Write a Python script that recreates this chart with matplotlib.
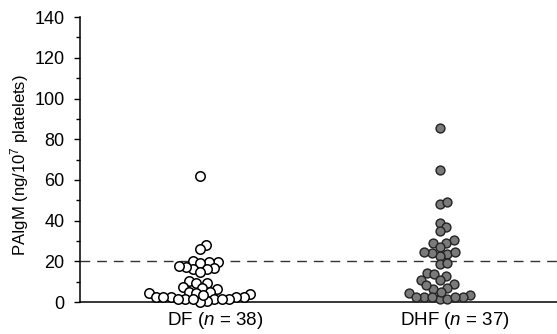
import matplotlib.pyplot as plt
import matplotlib.transforms as mtransforms
import numpy as np
from matplotlib.ticker import MultipleLocator

plt.rcParams['font.family'] = ['Liberation Sans', 'DejaVu Sans']
plt.rcParams['mathtext.fontset'] = 'custom'
plt.rcParams['mathtext.rm'] = 'Liberation Sans'
plt.rcParams['mathtext.it'] = 'Liberation Sans:italic'

# Dados
groups = ["DF", "DHF"]
labels = ["DF ($n$ = 38)", "DHF ($n$ = 37)"]
df_vals = [62.0, 27.8, 25.9, 19.6, 19.6, 20.1, 19.3, 16.5, 16.1, 16.1, 17.4,
           17.5, 14.7, 9.5, 10.3, 9.2, 7.5, 6.2, 7.0, 5.1, 4.6, 4.3, 4.9, 4.0,
           2.3, 2.6, 1.5, 2.3, 1.6, 2.6, 0.3, 0.2, 3.4, 1.3, 2.3, 1.6, 1.6, 1.3]
dhf_vals = [85.3, 64.8, 48.0, 49.0, 38.9, 36.8, 34.9, 29.1, 30.5, 29.1, 27.2,
            23.4, 22.7, 23.9, 24.4, 24.4, 18.7, 19.0, 14.4, 12.8, 13.6, 10.8,
            10.7, 8.7, 7.0, 6.4, 8.2, 4.3, 2.3, 3.4, 1.3, 2.3, 2.6, 1.5, 2.6,
            5.1, 2.6]
cutoff = 20


def swarm(vals, center, ax, diam):
    # posições horizontais tipo "beeswarm" calculadas em pixels
    tr = ax.transData
    ys = np.array([tr.transform((center, v))[1] for v in vals])
    xc = tr.transform((center, 0))[0]
    placed = []
    xs = np.zeros(len(vals))
    for i in np.argsort(vals):
        y = ys[i]
        cands = [0.0]
        for (px, py) in placed:
            dy = abs(py - y)
            if dy < diam:
                dx = np.sqrt(diam**2 - dy**2)
                cands += [px + dx, px - dx]
        cands.sort(key=abs)
        for c in cands:
            if all((c - px)**2 + (y - py)**2 >= diam**2 - 1e-6 for (px, py) in placed):
                xs[i] = c
                break
        placed.append((xs[i], y))
    inv = tr.inverted()
    return [inv.transform((xc + x, y))[0] for x, y in zip(xs, ys)]


fig = plt.figure(figsize=(5.57, 3.34), dpi=100)
ax = fig.add_axes([0.1436, 0.0958, 0.8564, 0.853])
ax.set_xlim(0.5, 2.49)
ax.set_ylim(0, 140)

x_df = swarm(df_vals, 1, ax, 7.4)
x_dhf = swarm(dhf_vals, 2, ax, 7.8)
ax.plot(x_df, df_vals, "o", ms=6.8, mfc="white", mec="black", mew=1.1,
        linestyle="none", clip_on=False, zorder=3)
ax.plot(x_dhf, dhf_vals, "o", ms=6.4, mfc="#7a7a7a", mec="#222222", mew=1.0,
        linestyle="none", clip_on=False, zorder=3)
ax.axhline(cutoff, color="#333333", lw=1.0, dashes=(7, 5))

ax.spines["top"].set_visible(False)
ax.spines["right"].set_visible(False)
ax.spines["left"].set_linewidth(1.1)
ax.spines["bottom"].set_linewidth(1.1)
ax.yaxis.set_major_locator(MultipleLocator(20))
ax.yaxis.set_minor_locator(MultipleLocator(10))
ax.tick_params(axis="y", which="major", length=4, width=1, pad=7, labelsize=13)
ax.tick_params(axis="y", which="minor", length=3, width=1)
ax.set_xticks([1, 2])
ax.set_xticklabels(labels)
ax.tick_params(axis="x", length=0, pad=6, labelsize=13.5)
shift = mtransforms.ScaledTranslation(0.15, 0, fig.dpi_scale_trans)
for lab in ax.get_xticklabels():
    lab.set_transform(lab.get_transform() + shift)
ax.set_ylabel("PAIgM (ng/10$^7$ platelets)", fontsize=12)
ax.yaxis.set_label_coords(-0.102, 0.48)

fig.savefig("out.png", dpi=100)
